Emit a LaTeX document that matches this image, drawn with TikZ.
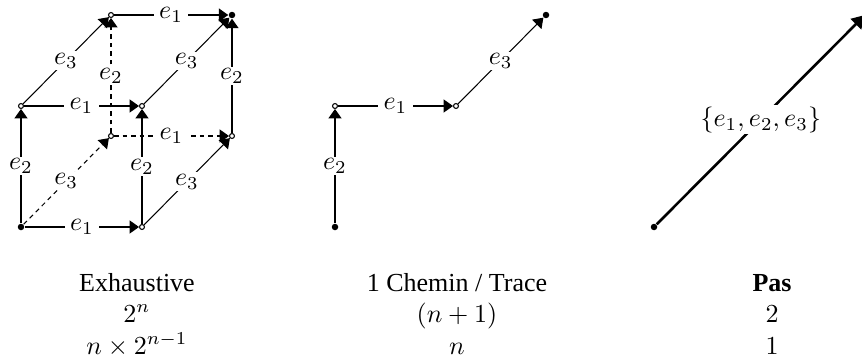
\documentclass[tikz,border=0pt]{standalone}
\usepackage{amsmath}
\usepackage{fontspec}
\setmainfont{Liberation Serif}
\usetikzlibrary{arrows.meta}

\tikzset{
  vtx/.style={circle, draw, fill=white, line width=0.4pt, inner sep=0pt, minimum size=1.9pt},
  endpt/.style={circle, fill, inner sep=0pt, minimum size=2.5pt},
  lab/.style={fill=white, inner xsep=2pt, inner ysep=0.6pt},
  edge/.style={-{Triangle[length=3.6pt,width=5pt]}},
  bigedge/.style={line width=1pt, -{Triangle[length=5pt,width=5.6pt]}},
  hidden/.style={dash pattern=on 1.8pt off 1.5pt},
}

\begin{document}
\begin{tikzpicture}[x=0.01352cm, y=-0.01352cm]
\useasboundingbox (0,0) rectangle (862,360);
% cube
\node[endpt] (c000) at (21,227) {};
\node[vtx] (c100) at (142,227) {};
\node[vtx] (c010) at (21,106) {};
\node[vtx] (c110) at (142,106) {};
\node[vtx] (c001) at (111,136) {};
\node[vtx] (c101) at (232,136) {};
\node[vtx] (c011) at (111,15) {};
\node[endpt] (c111) at (232,15) {};
\draw[edge, hidden] (c000) -- node[lab] {$e_3$} (c001);
\draw[edge, hidden] (c001) -- node[lab] {$e_1$} (c101);
\draw[edge, hidden] (c001) -- node[lab] {$e_2$} (c011);
\draw[edge] (c000) -- node[lab] {$e_1$} (c100);
\draw[edge] (c000) -- node[lab] {$e_2$} (c010);
\draw[edge] (c100) -- node[lab] {$e_2$} (c110);
\draw[edge] (c100) -- node[lab] {$e_3$} (c101);
\draw[edge] (c010) -- node[lab] {$e_1$} (c110);
\draw[edge] (c010) -- node[lab] {$e_3$} (c011);
\draw[edge] (c110) -- node[lab] {$e_3$} (c111);
\draw[edge] (c101) -- node[lab] {$e_2$} (c111);
\draw[edge] (c011) -- node[lab] {$e_1$} (c111);
% one path
\node[endpt] (p0) at (335,227) {};
\node[vtx] (p1) at (335,106) {};
\node[vtx] (p2) at (456,106) {};
\node[endpt] (p3) at (546,15) {};
\draw[edge] (p0) -- node[lab] {$e_2$} (p1);
\draw[edge] (p1) -- node[lab] {$e_1$} (p2);
\draw[edge] (p2) -- node[lab] {$e_3$} (p3);
% single step
\node[endpt] (s0) at (654,227) {};
\coordinate (s1) at (865,15);
\draw[bigedge] (s0) -- node[lab] {$\{e_1, e_2, e_3\}$} (s1);
% counts
\node[anchor=base] (exhName) at (137,291) {Exhaustive};
\node[anchor=base] (exhStates) at (137,322) {$2^n$};
\node[anchor=base] (exhEdges) at (137,354) {$n \times 2^{n-1}$};
\node[anchor=base] (pathName) at (457,291) {1 Chemin / Trace};
\node[anchor=base] (pathStates) at (457,322) {$(n+1)$};
\node[anchor=base] (pathEdges) at (457,354) {$n$};
\node[anchor=base] (stepName) at (772,291) {\textbf{Pas}};
\node[anchor=base] (stepStates) at (772,322) {$2$};
\node[anchor=base] (stepEdges) at (772,354) {$1$};
\end{tikzpicture}
\end{document}
